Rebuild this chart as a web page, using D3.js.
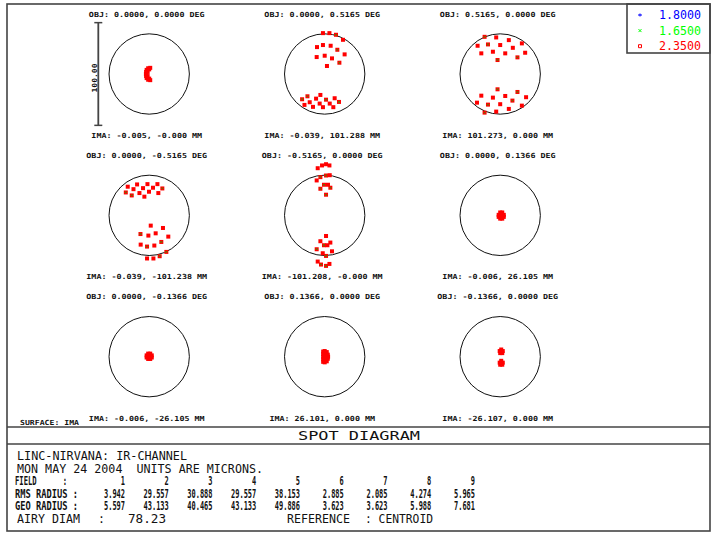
<!DOCTYPE html>
<html lang="en">
  <head>
    <meta charset="UTF-8" />
    <title>Spot Diagram</title>
    <script src="https://d3js.org/d3.v7.min.js"></script>
    <style>
      body { margin: 0; background: #fff; }
      .lbl { font-family: "DejaVu Sans Mono", monospace; font-weight: bold; font-size: 7px; fill: #111; }
      .big { font-family: "DejaVu Sans Mono", monospace; font-size: 11.5px; fill: #111; white-space: pre; }
      .tbl { font-family: "DejaVu Sans Mono", monospace; font-weight: bold; font-size: 12px; fill: #111; white-space: pre; }
    </style>
  </head>
  <body>
    <div id="chart"></div>
    <script>
      // wavelengths (microns) and their plot colours
      const wavelengths = [1.8, 1.65, 2.35];
      const wlColors = ["#0000ff", "#00ff00", "#ff0000"];

      const objLabels = [
        "OBJ: 0.0000, 0.0000 DEG", "OBJ: 0.0000, 0.5165 DEG", "OBJ: 0.5165, 0.0000 DEG",
        "OBJ: 0.0000, -0.5165 DEG", "OBJ: -0.5165, 0.0000 DEG", "OBJ: 0.0000, 0.1366 DEG",
        "OBJ: 0.0000, -0.1366 DEG", "OBJ: 0.1366, 0.0000 DEG", "OBJ: -0.1366, 0.0000 DEG"
      ];
      const imaLabels = [
        "IMA: -0.005, -0.000 MM", "IMA: -0.039, 101.288 MM", "IMA: 101.273, 0.000 MM",
        "IMA: -0.039, -101.238 MM", "IMA: -101.208, -0.000 MM", "IMA: -0.006, 26.105 MM",
        "IMA: -0.006, -26.105 MM", "IMA: 26.101, 0.000 MM", "IMA: -26.107, 0.000 MM"
      ];

      // ray intercepts relative to centroid, microns (x right, y up) - 2.35 um
      const spotsRed = [
        [[1,6],[-1,5.6],[-2.5,4],[-3,2],[-3.2,0],[-3,-2],[-2.5,-4],[-1,-5.6],[1,-6],[-1.5,2],[-1.5,-2],[0,4.5],[0,-4.5]],
        [[-1.7,39.8],[4.6,39.8],[11,38.2],[17.8,33.3],[-7.5,26.2],[-1.7,28.2],[5.8,27.5],[12.3,23.6],[19.4,19.1],[-7.8,16.5],[0,17.8],[7.1,15.2],[14.3,11],[2.2,7.8],
         [-22,-24.6],[-16.8,-21.7],[-4.2,-20.4],[-8.4,-24],[1.3,-25],[9.7,-23.6],[13.9,-27.2],[-14.6,-27.5],[-19.7,-30.1],[-11.4,-32],[-4.9,-28.8],[-1.7,-32.3],[4.9,-28.8],[8.4,-32.3]],
        [[-15.2,36.2],[-3.9,35.6],[8.4,33],[21.1,29.8],[-22,27.5],[-11.9,28.8],[0,28.2],[12.3,25.5],[24.3,20.7],[-18.4,20.1],[-7.1,21.7],[4.9,20.1],[16.8,16.2],[-2.6,13.6],
         [-2.6,-14.9],[16.8,-17.5],[-18.4,-21.1],[-7.1,-23],[4.9,-21.4],[11.9,-25.9],[25.2,-22.6],[-22.6,-27.9],[-11.9,-29.8],[0,-29.4],[21.1,-30.8],[8.4,-34],[-3.9,-36.6],[-15.2,-37.6]],
        [[-20.9,27.9],[-15.3,25.5],[-11.8,30.1],[-6,26.5],[-1.7,30.4],[3.7,26.9],[8,30.4],[12.8,26.2],[-22.8,22.3],[-17,19.4],[-9.5,21.7],[-4.7,18.2],[-0.2,23],[8.9,21.7],
         [1.5,-10],[13.4,-12.3],[-8.5,-18.2],[-0.8,-19.7],[6.3,-17.5],[18.6,-20.7],[-8.3,-28.5],[-2.1,-30.4],[5,-29.4],[11.8,-25.9],[16.7,-35.6],[10.2,-39.8],[4.1,-42],[-2.1,-42]],
        [[-6.8,45.9],[-2.6,48.6],[1.3,49.8],[4.6,48.6],[-4.2,37.2],[1.3,38.8],[4.9,39.1],[-7.8,34],[-0.7,29.8],[3.2,29.8],[-4.2,25.9],[5.5,26.9],[1.3,20.1],
         [1.3,-20.1],[-4.2,-25.2],[5.5,-26.5],[-0.7,-29.1],[2.6,-29.1],[-7.8,-33],[-1.9,-36.9],[7.1,-35],[1.3,-39.5],[-6.8,-45],[-3.6,-47.9],[1.3,-49.2],[4.6,-47.3]],
        [[1,-0.5],[-1.5,0.5],[3.5,0.5],[0,2.8],[2,2.8],[0,-3.2],[2,-3.2],[-1.5,-1.5],[3.5,-1.5],[1,1.5],[1,-2]],
        [[0,0.3],[-2.5,1.3],[2.5,1.3],[-1,3],[1,3],[-1,-2.2],[1,-2.2],[-2.5,-0.8],[2.5,-0.8],[0,-1]],
        [[-1.5,5],[-1.5,2.5],[-1.5,0],[-1.5,-2.5],[-1.5,-5],[0,5.5],[2,4.5],[3,2],[3.3,0],[3,-2],[2,-4.5],[0,-5.5],[0.5,2],[0.5,-2],[1.5,0]],
        [[1,7],[-0.5,5.5],[2.5,5.5],[0,3.5],[2,3.5],[1,5],[1,-4],[-0.5,-5.8],[2.5,-5.8],[0,-7.8],[2,-7.8],[1,-5.8]]
      ];
      // 1.65 um intercepts showing through the 2.35 um markers
      const spotsGreen = [
        [],
        [[11,38.2],[12.3,23.6],[14.3,11],[-16.8,-21.7],[-22,-24.6],[1.3,-25],[13.9,-27.2]],
        [[-15.2,36.2],[-11.9,28.8],[16.8,16.2],[-2.6,13.6],[-2.6,-14.9],[16.8,-17.5],[11.9,-25.9],[-11.9,-29.8],[-15.2,-37.6]],
        [[12.8,26.2],[-22.8,22.3],[-17,19.4],[-8.5,-18.2],[-2.1,-30.4],[11.8,-25.9],[16.7,-35.6],[10.2,-39.8]],
        [[-4.2,37.2],[1.3,38.8],[-0.7,29.8],[-4.2,25.9],[5.5,26.9],[1.3,20.1],[-7.8,-33],[-0.7,-29.1],[1.3,-39.5],[-3.6,-47.9],[1.3,-49.2]],
        [], [], [], []
      ];

      const fields = [1, 2, 3, 4, 5, 6, 7, 8, 9];
      const rmsRadius = [3.942, 29.557, 30.888, 29.557, 38.153, 2.885, 2.085, 4.274, 5.965];
      const geoRadius = [5.597, 43.133, 40.465, 43.133, 49.886, 3.623, 3.623, 5.988, 7.681];
      const airyDiam = 78.23;
      const scaleBar = 100;

      const W = 712, H = 533;
      const svg = d3.select("#chart").append("svg").attr("width", W).attr("height", H);

      // microns -> pixels
      const sx = d3.scaleLinear().domain([-50, 50]).range([-51.35, 51.35]);
      const sy = d3.scaleLinear().domain([-50, 50]).range([51.35, -51.35]);
      const colX = d3.scaleLinear().domain([0, 2]).range([149.2, 500.2]);
      const rowY = d3.scaleLinear().domain([0, 2]).range([74, 356.7]);

      // frame
      svg.append("rect").attr("x", 7).attr("y", 4).attr("width", 703).attr("height", 527)
        .attr("fill", "none").attr("stroke", "#444").attr("stroke-width", 1.6);
      svg.append("line").attr("x1", 7).attr("x2", 710).attr("y1", 427).attr("y2", 427)
        .attr("stroke", "#444").attr("stroke-width", 1.6);
      svg.append("line").attr("x1", 7).attr("x2", 710).attr("y1", 444).attr("y2", 444)
        .attr("stroke", "#444").attr("stroke-width", 1.4);

      fields.forEach((f, i) => {
        const cx = colX(i % 3), cy = rowY(Math.floor(i / 3));
        const g = svg.append("g").attr("transform", `translate(${cx},${cy})`);

        g.append("circle").attr("r", sx(airyDiam / 2))
          .attr("fill", "none").attr("stroke", "#111").attr("stroke-width", 1);

        g.selectAll("rect.r").data(spotsRed[i]).join("rect").attr("class", "r")
          .attr("x", d => sx(d[0]) - 2).attr("y", d => sy(d[1]) - 2)
          .attr("width", 4).attr("height", 4).attr("fill", wlColors[2]);

        g.selectAll("path.gx").data(spotsGreen[i]).join("path").attr("class", "gx")
          .attr("transform", d => `translate(${sx(d[0])},${sy(d[1])})`)
          .attr("d", "M-0.7,-0.7L0.7,0.7M-0.7,0.7L0.7,-0.7")
          .attr("stroke", "#3a9a00").attr("stroke-width", 1);

        const n1 = objLabels[i].length, n2 = imaLabels[i].length;
        g.append("text").attr("class", "lbl").attr("x", -2.5).attr("y", -57.5)
          .attr("text-anchor", "middle").attr("textLength", n1 * 5.03)
          .attr("lengthAdjust", "spacingAndGlyphs").text(objLabels[i]);
        g.append("text").attr("class", "lbl").attr("x", -2.5).attr("y", 64)
          .attr("text-anchor", "middle").attr("textLength", n2 * 5.03)
          .attr("lengthAdjust", "spacingAndGlyphs").text(imaLabels[i]);
      });

      // scale bar (100 microns)
      const bar = svg.append("g").attr("transform", `translate(98.3,${rowY(0)})`);
      bar.append("line").attr("x1", 0).attr("x2", 0).attr("y1", sy(scaleBar / 2)).attr("y2", sy(-scaleBar / 2))
        .attr("stroke", "#444").attr("stroke-width", 1.8);
      [scaleBar / 2, -scaleBar / 2].forEach(v => {
        bar.append("line").attr("x1", -4).attr("x2", 4).attr("y1", sy(v)).attr("y2", sy(v))
          .attr("stroke", "#444").attr("stroke-width", 1.5);
      });
      bar.append("text").attr("class", "lbl").attr("transform", "translate(-1,4) rotate(-90)")
        .attr("text-anchor", "middle").attr("textLength", 29).attr("lengthAdjust", "spacingAndGlyphs")
        .text(d3.format(".2f")(scaleBar));

      svg.append("text").attr("class", "lbl").attr("x", 20).attr("y", 425)
        .attr("textLength", 59).attr("lengthAdjust", "spacingAndGlyphs").text("SURFACE: IMA");

      // legend
      svg.append("rect").attr("x", 627).attr("y", 4).attr("width", 83).attr("height", 49)
        .attr("fill", "none").attr("stroke", "#444").attr("stroke-width", 1.6);
      const symbols = ["M-2,0L2,0M0,-1.5L0,1.5", "M-1.5,-1.5L1.5,1.5M-1.5,1.5L1.5,-1.5", "M-1.5,-1.5H1.5V1.5H-1.5Z"];
      wavelengths.forEach((w, i) => {
        const y = 15 + i * 15.6;
        svg.append("path").attr("transform", `translate(640,${y})`).attr("d", symbols[i])
          .attr("fill", "none").attr("stroke", wlColors[i]).attr("stroke-width", 1);
        svg.append("text").attr("class", "big").attr("x", 659).attr("y", y + 4)
          .attr("textLength", 42).attr("lengthAdjust", "spacingAndGlyphs")
          .style("fill", wlColors[i]).text(d3.format(".4f")(w));
      });

      // bottom text block
      svg.append("text").attr("class", "big").attr("x", 359).attr("y", 440)
        .attr("text-anchor", "middle").attr("textLength", 122).attr("lengthAdjust", "spacingAndGlyphs")
        .style("font-size", "12px").text("SPOT DIAGRAM");
      svg.append("text").attr("class", "big").attr("x", 17).attr("y", 460)
        .attr("textLength", 170).attr("lengthAdjust", "spacingAndGlyphs").text("LINC-NIRVANA: IR-CHANNEL");
      svg.append("text").attr("class", "big").attr("x", 17).attr("y", 472.5)
        .attr("textLength", 246).attr("lengthAdjust", "spacingAndGlyphs").text("MON MAY 24 2004  UNITS ARE MICRONS.");

      const colRight = d3.scaleLinear().domain([1, 9]).range([125, 475]);
      const rows = [
        { label: "FIELD      :", y: 485, vals: fields.map(String), lw: 52 },
        { label: "RMS RADIUS :", y: 497.5, vals: rmsRadius.map(d3.format(".3f")), lw: 63 },
        { label: "GEO RADIUS :", y: 510, vals: geoRadius.map(d3.format(".3f")), lw: 63 }
      ];
      rows.forEach(r => {
        svg.append("text").attr("class", "tbl").attr("x", 15).attr("y", r.y)
          .attr("textLength", r.lw).attr("lengthAdjust", "spacingAndGlyphs").text(r.label);
        r.vals.forEach((v, j) => {
          svg.append("text").attr("class", "tbl").attr("x", colRight(fields[j])).attr("y", r.y)
            .attr("text-anchor", "end").attr("textLength", v.length * 4.2)
            .attr("lengthAdjust", "spacingAndGlyphs").text(v);
        });
      });

      svg.append("text").attr("class", "big").attr("x", 17).attr("y", 523)
        .attr("textLength", 63).attr("lengthAdjust", "spacingAndGlyphs").text("AIRY DIAM");
      svg.append("text").attr("class", "big").attr("x", 98).attr("y", 523).text(":");
      svg.append("text").attr("class", "big").attr("x", 128).attr("y", 523)
        .attr("textLength", 38).attr("lengthAdjust", "spacingAndGlyphs").text(d3.format(".2f")(airyDiam));
      svg.append("text").attr("class", "big").attr("x", 287).attr("y", 523)
        .attr("textLength", 63).attr("lengthAdjust", "spacingAndGlyphs").text("REFERENCE");
      svg.append("text").attr("class", "big").attr("x", 365).attr("y", 523)
        .attr("textLength", 68).attr("lengthAdjust", "spacingAndGlyphs").text(": CENTROID");
    </script>
  </body>
</html>
